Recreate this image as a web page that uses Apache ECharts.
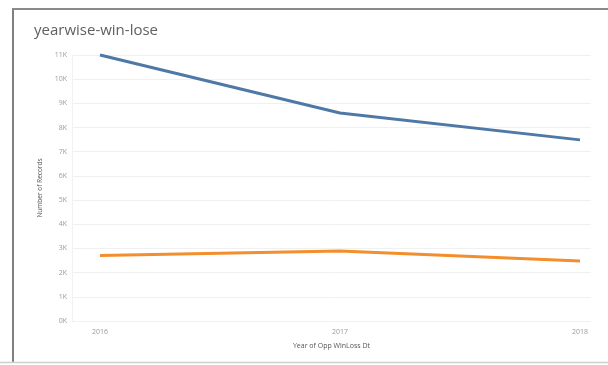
<!DOCTYPE html>
<html>
<head>
<meta charset="utf-8">
<script src="https://cdn.jsdelivr.net/npm/echarts@6/dist/echarts.min.js"></script>
<style>
  html, body { margin: 0; padding: 0; background: #fff; }
  #chart { width: 608px; height: 365px; }
</style>
</head>
<body>
<div id="chart"></div>
<script>
// Yearly record counts by outcome
const years = [2016, 2017, 2018];
const winRecords = [11000, 8600, 7490];
const loseRecords = [2710, 2890, 2480];
const yTicks = ['0K', '1K', '2K', '3K', '4K', '5K', '6K', '7K', '8K', '9K', '10K', '11K'];

const chart = echarts.init(document.getElementById('chart'));

const font = 'Open Sans';

chart.setOption({
  animation: false,
  backgroundColor: '#ffffff',
  title: {
    text: 'yearwise-win-lose',
    left: 29,
    top: 18,
    textStyle: { fontFamily: font, fontSize: 15, fontWeight: 'normal', color: '#606060' }
  },
  graphic: [
    // panel frame
    { type: 'line', shape: { x1: 13, y1: 8, x2: 13, y2: 363 }, style: { stroke: '#7f7f7f', lineWidth: 2 } },
    { type: 'line', shape: { x1: 12, y1: 9, x2: 608, y2: 9 }, style: { stroke: '#8a8a8a', lineWidth: 2 } },
    { type: 'line', shape: { x1: 0, y1: 362.5, x2: 608, y2: 362.5 }, style: { stroke: '#cfcfcf', lineWidth: 1.5 } }
  ],
  grid: { left: 72, right: 17, top: 55, bottom: 44 },
  xAxis: {
    type: 'value',
    min: 2016 - 28 / 240,
    max: 2018 + 11 / 240,
    name: 'Year of Opp WinLoss Dt',
    nameLocation: 'middle',
    nameGap: 21,
    nameTextStyle: { fontFamily: font, fontSize: 7, color: '#555555' },
    axisLine: { show: false },
    axisTick: { show: false },
    splitLine: { show: false },
    axisLabel: {
      customValues: years,
      fontFamily: font,
      fontSize: 7,
      color: '#999999',
      margin: 7,
      formatter: v => String(v)
    }
  },
  yAxis: {
    type: 'value',
    min: 0,
    max: 11000,
    interval: 1000,
    name: 'Number of Records',
    nameLocation: 'middle',
    nameGap: 25,
    nameTextStyle: { fontFamily: font, fontSize: 6.5, color: '#555555' },
    axisLine: { show: true, lineStyle: { color: '#f2f2f2' } },
    axisTick: { show: false },
    splitLine: { show: true, lineStyle: { color: '#f0f0f0', width: 1 } },
    axisLabel: {
      fontFamily: font,
      fontSize: 7,
      color: '#9a9a9a',
      margin: 5,
      formatter: v => yTicks[Math.round(v / 1000)]
    }
  },
  series: [
    {
      name: 'Win',
      type: 'line',
      data: years.map((y, i) => [y, winRecords[i]]),
      symbol: 'none',
      clip: false,
      lineStyle: { color: '#4e79a7', width: 3 }
    },
    {
      name: 'Lose',
      type: 'line',
      data: years.map((y, i) => [y, loseRecords[i]]),
      symbol: 'none',
      clip: false,
      lineStyle: { color: '#f28e2b', width: 3 }
    }
  ]
});
</script>
</body>
</html>
